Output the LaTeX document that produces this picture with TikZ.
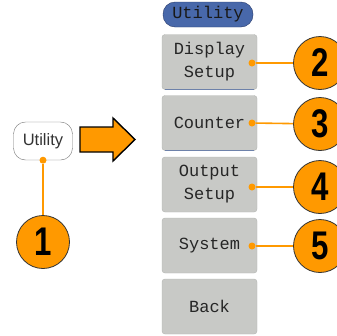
\documentclass[tikz,border=0pt]{standalone}
\usepackage{fontspec}
\setmainfont{Liberation Sans}
\setmonofont{Liberation Mono}
\newfontfamily\numfont[FakeStretch=0.78]{Liberation Sans}
\definecolor{orange1}{RGB}{255, 153, 0}
\definecolor{menugray}{RGB}{200, 201, 198}
\definecolor{menuedge}{RGB}{178, 180, 177}
\definecolor{headblue}{RGB}{72, 104, 170}
\definecolor{headedge}{RGB}{40, 58, 105}
\definecolor{underline1}{RGB}{110, 130, 170}
\usetikzlibrary{shapes, arrows.meta, positioning, calc}

\begin{document}
\begin{tikzpicture}[x=1pt, y=-1pt,
  menubtn/.style={draw=menuedge, fill=menugray, rounded corners=3pt, minimum width=95pt, minimum height=55pt,
    align=center, inner sep=0pt, text=black!85, font=\ttfamily\fontsize{17}{23}\selectfont},
  callout/.style={circle, draw=black!80, fill=orange1, line width=0.8pt, minimum size=53pt, inner sep=0pt,
    font=\numfont\bfseries\fontsize{40}{40}\selectfont},
  pin/.style={circle, fill=orange1, minimum size=7pt, inner sep=0pt},
  lead/.style={orange1, line width=1.6pt}]
  \useasboundingbox (0,0) rectangle (337,335);

  % front panel key
  \node[draw=black!55, fill=white, rounded corners=12pt, minimum width=59pt, minimum height=38pt,
    text=black!80, font=\fontsize{16.5}{16.5}\selectfont] (utilkey) at (43,141) {Utility};
  \node[pin] (pin1) at (utilkey.south) {};
  \node[callout] (num1) at (43,242) {1};
  \draw[lead] (pin1) -- (num1);

  % big arrow
  \draw[fill=orange1, line width=1.4pt, line join=miter]
    (80,127) -- (113,127) -- (113,118) -- (135,139.5) -- (113,161) -- (113,152) -- (80,152) -- cycle;

  % menu
  \node[draw=headedge, fill=headblue, rounded corners=12pt, minimum width=90pt, minimum height=25pt, inner sep=0pt,
    text=black!90, font=\ttfamily\fontsize{17}{17}\selectfont] (header) at (208,14.5) {Utility};
  \node[menubtn] (display) at (209.5,62) {Display\\Setup};
  \node[menubtn] (counter) at (209.5,123) {Counter};
  \node[menubtn] (output) at (209.5,184.5) {Output\\Setup};
  \node[menubtn] (system) at (209.5,245.5) {System};
  \node[menubtn] (back) at (209.5,306.5) {Back};
  \draw[underline1, line width=1pt] ($(display.south west)+(3,0)$) -- ($(display.south east)+(-3,0)$);
  \draw[underline1, line width=1pt] ($(counter.south west)+(3,0)$) -- ($(counter.south east)+(-3,0)$);

  % callouts
  \node[pin] (pin2) at (252,63) {};
  \node[pin] (pin3) at (252,123) {};
  \node[pin] (pin4) at (252,187) {};
  \node[pin] (pin5) at (252,246) {};
  \node[callout] (num2) at (320,63) {2};
  \node[callout] (num3) at (320,124) {3};
  \node[callout] (num4) at (320,187) {4};
  \node[callout] (num5) at (320,246) {5};
  \draw[lead] (pin2) -- (num2);
  \draw[lead] (pin3) -- (num3);
  \draw[lead] (pin4) -- (num4);
  \draw[lead] (pin5) -- (num5);
\end{tikzpicture}
\end{document}
